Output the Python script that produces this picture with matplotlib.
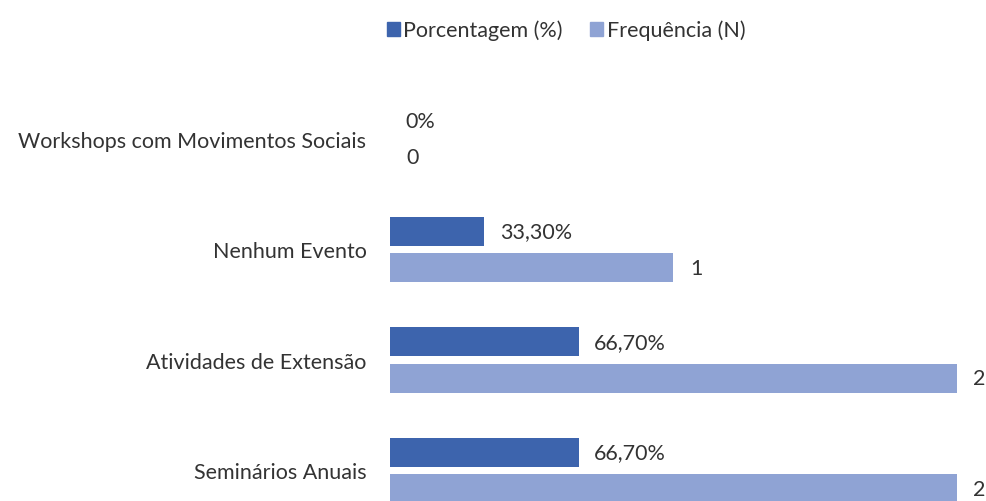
import matplotlib
matplotlib.use("Agg")
import matplotlib.pyplot as plt
from matplotlib.patches import Patch

plt.rcParams['font.family'] = ['Lato', 'DejaVu Sans']

categories = ["Workshops com Movimentos Sociais", "Nenhum Evento",
              "Atividades de Extensão", "Seminários Anuais"]
pct_values = [0.0, 0.333, 0.667, 0.667]
freq_values = [0, 1, 2, 2]
series_names = ["Porcentagem (%)", "Frequência (N)"]

c_pct = "#3D64AD"
c_freq = "#8FA3D4"
txt = "#333333"
fs = 15.5

fig = plt.figure(figsize=(9.87, 5.02), dpi=100)
ax = fig.add_axes([390/987, 0, 595/987, 1])

y = list(range(len(categories)))
off = 0.165
h = 0.265
ax.barh([v - off for v in y], pct_values, height=h, color=c_pct)
ax.barh([v + off for v in y], freq_values, height=h, color=c_freq)

def fmt_pct(v):
    if v == 0:
        return "0%"
    return f"{v*100:.2f}".replace('.', ',') + "%"

for i, v in enumerate(pct_values):
    ax.annotate(fmt_pct(v), (v, i - off), xytext=(11, 0), textcoords="offset points",
                ha="left", va="center", fontsize=fs, color=txt)
for i, v in enumerate(freq_values):
    ax.annotate(f"{v}", (v, i + off), xytext=(12, 0), textcoords="offset points",
                ha="left", va="center", fontsize=fs, color=txt)

step = 110.5
ax.set_xlim(0, 2.1)
ax.set_ylim((502 - 140) / step, -140 / step)
ax.set_yticks(y)
ax.set_yticklabels(categories, fontsize=fs, color=txt)
ax.tick_params(axis='y', length=0, pad=17)
ax.set_xticks([])
for s in ax.spines.values():
    s.set_visible(False)

handles = [Patch(color=c_pct), Patch(color=c_freq)]
fig.legend(handles, series_names, loc="center", bbox_to_anchor=(566/987, 1 - 31/502),
           ncol=2, frameon=False, fontsize=fs, handlelength=0.6, handleheight=0.6,
           handletextpad=0.15, columnspacing=1.3, labelcolor=txt)

fig.savefig("out.png", dpi=100)
